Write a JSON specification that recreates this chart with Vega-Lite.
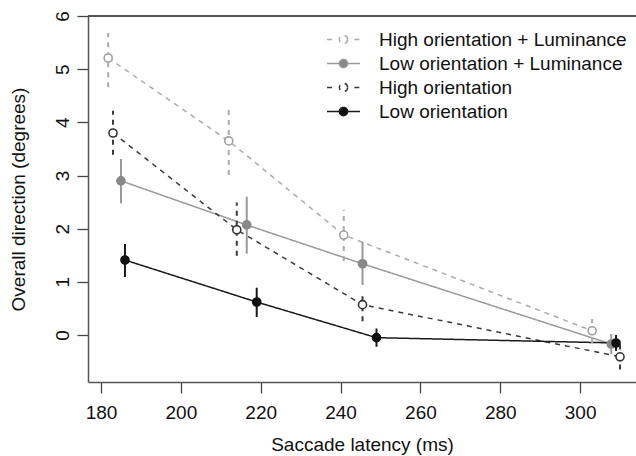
{
  "$schema": "https://vega.github.io/schema/vega-lite/v6.json",
  "width": 548,
  "height": 366,
  "autosize": {"type": "none"},
  "padding": {"left": 88, "top": 16, "right": 0, "bottom": 74},
  "background": "white",
  "config": {
    "view": {"stroke": null},
    "font": "Liberation Sans",
    "axis": {
      "grid": false,
      "domainColor": "#555555",
      "domainWidth": 1.5,
      "tickColor": "#444444",
      "tickWidth": 1.3,
      "tickSize": 11,
      "labelFont": "Liberation Sans",
      "labelFontSize": 19,
      "labelColor": "#111111",
      "titleFont": "Liberation Sans",
      "titleFontSize": 19,
      "titleFontWeight": "normal",
      "titleColor": "#111111"
    }
  },
  "data": {
    "values": [
      {"series": "High orientation + Luminance", "x": 181.8, "y": 5.21, "lo": 4.66, "hi": 5.68},
      {"series": "High orientation + Luminance", "x": 212.0, "y": 3.65, "lo": 3.01, "hi": 4.31},
      {"series": "High orientation + Luminance", "x": 240.8, "y": 1.88, "lo": 1.39, "hi": 2.35},
      {"series": "High orientation + Luminance", "x": 303.0, "y": 0.08, "lo": -0.15, "hi": 0.3},
      {"series": "Low orientation + Luminance", "x": 185.0, "y": 2.9, "lo": 2.48, "hi": 3.31},
      {"series": "Low orientation + Luminance", "x": 216.5, "y": 2.07, "lo": 1.53, "hi": 2.6},
      {"series": "Low orientation + Luminance", "x": 245.5, "y": 1.34, "lo": 0.94, "hi": 1.75},
      {"series": "Low orientation + Luminance", "x": 307.8, "y": -0.17, "lo": -0.36, "hi": 0.02},
      {"series": "High orientation", "x": 183.0, "y": 3.8, "lo": 3.39, "hi": 4.22},
      {"series": "High orientation", "x": 214.0, "y": 1.98, "lo": 1.49, "hi": 2.49},
      {"series": "High orientation", "x": 245.5, "y": 0.57, "lo": 0.26, "hi": 0.75},
      {"series": "High orientation", "x": 310.0, "y": -0.41, "lo": -0.65, "hi": -0.15},
      {"series": "Low orientation", "x": 186.0, "y": 1.41, "lo": 1.09, "hi": 1.71},
      {"series": "Low orientation", "x": 219.0, "y": 0.62, "lo": 0.34, "hi": 0.89},
      {"series": "Low orientation", "x": 249.0, "y": -0.05, "lo": -0.22, "hi": 0.12},
      {"series": "Low orientation", "x": 309.0, "y": -0.15, "lo": -0.3, "hi": 0.0}
    ]
  },
  "encoding": {
    "x": {
      "field": "x", "type": "quantitative",
      "scale": {"domain": [176.74, 314.0], "nice": false, "zero": false},
      "axis": {"values": [180, 200, 220, 240, 260, 280, 300], "title": "Saccade latency (ms)", "labelPadding": 10, "titleY": 68, "titleBaseline": "alphabetic"}
    },
    "y": {
      "field": "y", "type": "quantitative",
      "scale": {"domain": [-0.884, 6], "nice": false, "zero": false},
      "axis": {"values": [0, 1, 2, 3, 4, 5, 6], "title": "Overall direction (degrees)", "labelAngle": 270, "labelAlign": "center", "labelBaseline": "bottom", "labelPadding": 5, "titleX": -70, "titleY": 183, "titleAngle": 270, "titleAlign": "center", "titleBaseline": "middle",
        "encode": {"labels": {"update": {"angle": {"value": -90}, "align": {"value": "center"}, "baseline": {"value": "bottom"}}}}}
    }
  },
  "layer": [
    {
      "mark": {"type": "line", "strokeWidth": 1.5},
      "encoding": {
        "color": {
          "field": "series", "type": "nominal",
          "scale": {
            "domain": ["High orientation + Luminance", "Low orientation + Luminance", "High orientation", "Low orientation"],
            "range": ["#aaaaaa", "#999999", "#3a3a3a", "#1a1a1a"]
          },
          "legend": {
            "title": null,
            "orient": "none",
            "legendX": 246,
            "legendY": 14,
            "padding": 0,
            "symbolType": "M-2.2,0L-0.55,0M0.55,0L2.2,0M0.55,0A0.55,0.55,0,1,1,-0.55,0A0.55,0.55,0,1,1,0.55,0Z",
            "symbolSize": 225,
            "symbolStrokeWidth": 1.5,
            "labelFont": "Liberation Sans",
            "labelFontSize": 19,
            "labelColor": "#111111",
            "labelOffset": 26,
            "rowPadding": 4,
            "labelLimit": 400,
            "encode": {
              "symbols": {
                "update": {
                  "shape": {"signal": "indexof(datum.value, 'High') === 0 ? 'M-2.2,0L-1.45,0M1.45,0L2.2,0M0.55,0A0.55,0.55,0,1,1,-0.55,0A0.55,0.55,0,1,1,0.55,0Z' : 'M-2.2,0L-0.55,0M0.55,0L2.2,0M0.55,0A0.55,0.55,0,1,1,-0.55,0A0.55,0.55,0,1,1,0.55,0Z'"},
                  "fill": {"signal": "datum.value === 'Low orientation' ? '#111111' : datum.value === 'Low orientation + Luminance' ? '#888888' : '#ffffff'"}
                }
              }
            }
          }
        },
        "strokeDash": {
          "field": "series", "type": "nominal",
          "scale": {
            "domain": ["High orientation + Luminance", "Low orientation + Luminance", "High orientation", "Low orientation"],
            "range": [[5, 5], [1, 0], [5, 5], [1, 0]]
          },
          "legend": null
        }
      }
    },
    {
      "mark": {"type": "rule", "strokeWidth": 2},
      "encoding": {
        "y": {"field": "lo", "type": "quantitative"},
        "y2": {"field": "hi"},
        "color": {"field": "series", "type": "nominal"},
        "strokeDash": {"field": "series", "type": "nominal", "legend": null}
      }
    },
    {
      "mark": {"type": "point", "filled": false, "strokeWidth": 1.6, "opacity": 1, "shape": "circle", "size": 65},
      "encoding": {
        "stroke": {
          "field": "series", "type": "nominal",
          "scale": {
            "domain": ["High orientation + Luminance", "Low orientation + Luminance", "High orientation", "Low orientation"],
            "range": ["#a0a0a0", "#888888", "#333333", "#111111"]
          },
          "legend": null
        },
        "fill": {
          "field": "series", "type": "nominal",
          "scale": {
            "domain": ["High orientation + Luminance", "Low orientation + Luminance", "High orientation", "Low orientation"],
            "range": ["#ffffff", "#888888", "#ffffff", "#111111"]
          },
          "legend": null
        }
      }
    },
    {
      "mark": {"type": "rule", "color": "#555555", "strokeWidth": 1.5},
      "encoding": {
        "y": {"datum": 6, "type": "quantitative", "axis": {"values": [0, 1, 2, 3, 4, 5, 6], "title": "Overall direction (degrees)", "labelAngle": 270, "labelAlign": "center", "labelBaseline": "bottom", "labelPadding": 5, "titleX": -70, "titleY": 183, "titleAngle": 270, "titleAlign": "center", "titleBaseline": "middle",
          "encode": {"labels": {"update": {"angle": {"value": -90}, "align": {"value": "center"}, "baseline": {"value": "bottom"}}}}}},
        "x": null
      }
    }
  ]
}
